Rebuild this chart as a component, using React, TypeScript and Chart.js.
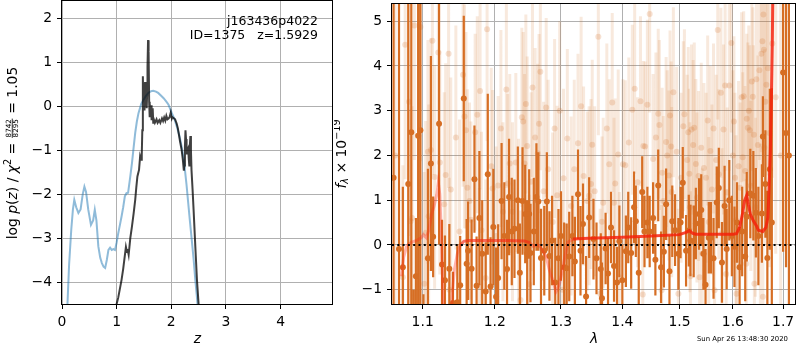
import React, { useEffect, useRef } from 'react';
import { Chart, registerables } from 'chart.js';

Chart.register(...registerables);

const FONT = "'DejaVu Sans', sans-serif";

// ---------------- left panel: log p(z) ----------------
const zTicks = [0, 1, 2, 3, 4];
const logpTicks = [-4, -3, -2, -1, 0, 1, 2];

const zBlack = [0.98, 1.00, 1.03, 1.06, 1.09, 1.12, 1.15, 1.17, 1.19, 1.20, 1.22, 1.25, 1.28, 1.31, 1.34, 1.36, 1.38, 1.40, 1.41, 1.43, 1.45, 1.46, 1.47, 1.48, 1.49, 1.50, 1.51, 1.52, 1.53, 1.54, 1.55, 1.56, 1.565, 1.575, 1.585, 1.595, 1.60, 1.61, 1.62, 1.63, 1.64, 1.65, 1.66, 1.67, 1.68, 1.70, 1.73, 1.75, 1.78, 1.80, 1.83, 1.85, 1.87, 1.89, 1.91, 1.93, 1.95, 1.97, 1.99, 2.01, 2.02, 2.04, 2.07, 2.10, 2.12, 2.14, 2.16, 2.19, 2.21, 2.23, 2.24, 2.25, 2.26, 2.27, 2.28, 2.29, 2.31, 2.32, 2.33, 2.34, 2.35, 2.36, 2.37, 2.39, 2.41, 2.44, 2.47, 2.50, 2.52];
const logpBlack = [-4.8, -4.5, -4.35, -4.15, -3.95, -3.7, -3.4, -3.2, -3.32, -3.25, -3.38, -3.0, -2.74, -2.45, -2.13, -1.85, -1.6, -1.5, -1.45, -1.14, -1.22, -1.1, -0.55, 0.68, -0.05, 0.35, -0.1, 0.55, 0.05, 0.4, -0.05, 0.35, 0.9, 1.5, 1.25, 0.1, -0.25, 0.05, -0.12, 0.02, -0.32, -0.15, -0.05, -0.38, -0.3, -0.38, -0.3, -0.38, -0.32, -0.38, -0.28, -0.34, -0.26, -0.33, -0.22, -0.3, -0.28, -0.25, -0.15, -0.28, -0.25, -0.27, -0.3, -0.4, -0.5, -0.65, -0.8, -1.0, -1.2, -1.47, -1.35, -0.92, -0.55, -0.75, -1.1, -1.0, -0.95, -1.2, -1.35, -0.9, -0.68, -1.0, -1.45, -1.9, -2.4, -3.19, -3.95, -4.5, -5.0];

const zBlue = [0.08, 0.10, 0.13, 0.17, 0.20, 0.225, 0.26, 0.30, 0.34, 0.38, 0.41, 0.44, 0.48, 0.53, 0.57, 0.60, 0.63, 0.665, 0.70, 0.73, 0.76, 0.79, 0.82, 0.85, 0.88, 0.91, 0.94, 0.97, 1.00, 1.03, 1.06, 1.09, 1.12, 1.15, 1.18, 1.21, 1.25, 1.28, 1.31, 1.34, 1.37, 1.40, 1.45, 1.49, 1.54, 1.58, 1.63, 1.67, 1.72, 1.76, 1.81, 1.86, 1.91, 1.95, 2.01, 2.06, 2.10, 2.15, 2.19, 2.22, 2.25, 2.28, 2.31, 2.34, 2.375, 2.41, 2.44, 2.47, 2.50];
const logpBlue = [-5.0, -4.5, -3.6, -2.8, -2.35, -2.13, -2.3, -2.43, -2.35, -2.0, -1.83, -1.95, -2.35, -2.70, -2.6, -2.36, -2.6, -3.19, -3.45, -3.57, -3.65, -3.68, -3.5, -3.27, -3.22, -3.27, -3.25, -3.27, -3.1, -2.89, -2.7, -2.51, -2.3, -2.05, -1.98, -1.97, -1.6, -1.30, -0.95, -0.61, -0.35, -0.16, 0.05, 0.14, 0.24, 0.30, 0.34, 0.35, 0.33, 0.30, 0.24, 0.18, 0.10, 0.03, -0.16, -0.30, -0.46, -0.68, -0.92, -1.15, -1.45, -1.80, -2.20, -2.60, -3.04, -3.5, -3.95, -4.35, -4.8];

const fieldName = 'j163436p4022';
const idText = 'ID=1375   z=1.5929';

// ---------------- right panel: spectrum ----------------
const lamTicks = [1.1, 1.2, 1.3, 1.4, 1.5, 1.6, 1.7];
const fluxTicks = [-1, 0, 1, 2, 3, 4, 5];

const solidWave = [
  1.062, 1.069, 1.074, 1.081, 1.085, 1.088, 1.091, 1.094, 1.097, 1.101,
  1.107, 1.111, 1.114, 1.122, 1.126, 1.130, 1.136, 1.141, 1.147, 1.151,
  1.156, 1.160, 1.162, 1.167, 1.171, 1.174, 1.178, 1.182, 1.187, 1.190,
  1.194, 1.198, 1.202, 1.205, 1.210, 1.214, 1.218, 1.221, 1.225, 1.229,
  1.234, 1.237, 1.241, 1.245, 1.248, 1.251, 1.253, 1.258, 1.262, 1.265,
  1.269, 1.274, 1.278, 1.282, 1.286, 1.291, 1.296, 1.300, 1.305, 1.309,
  1.313, 1.318, 1.322, 1.327, 1.331, 1.335, 1.340, 1.345, 1.352, 1.357,
  1.364, 1.366, 1.372, 1.376, 1.381, 1.386, 1.391, 1.395, 1.400, 1.406,
  1.410, 1.415, 1.420, 1.423, 1.428, 1.434, 1.438, 1.443, 1.447, 1.453,
  1.457, 1.462, 1.467, 1.472, 1.476, 1.482, 1.487, 1.492, 1.498, 1.502,
  1.506, 1.512, 1.517, 1.520, 1.526, 1.530, 1.536, 1.540, 1.544, 1.548,
  1.554, 1.558, 1.563, 1.569, 1.573, 1.579, 1.584, 1.588, 1.593, 1.598,
  1.603, 1.608, 1.613, 1.618, 1.624, 1.627, 1.634, 1.640, 1.645, 1.650,
  1.657, 1.659, 1.664, 1.668, 1.673, 1.677, 1.700, 1.706, 1.712,
];
const solidFlux = [
  1.5, -0.09, -0.5, 1.36, 2.52, -1.6, -0.7, 2.44, 2.56, -1.5,
  -0.3, 1.82, 0.18, 2.71, -0.44, -0.79, -0.53, -1.3, -1.28, -0.9,
  3.27, -0.42, -0.13, -0.53, 1.47, -0.91, 0.60, -0.2, -1.04, 1.58,
  -0.93, 0.4, -1.16, -0.74, 0.98, 0.2, -0.54, 1.07, 0.3, 0.36,
  1.0, -0.62, 0.98, 0.69, -0.2, 0.69, -0.18, 0.3, 1.07, 0.97,
  -0.29, -0.13, 0.97, -0.25, 0.1, -0.84, -0.3, 0.2, -0.5, -0.52,
  -0.26, 0.2, -0.37, 1.13, -0.13, 0.47, -1.15, 0.61, 0.13, -0.3,
  -0.54, -1.19, -0.08, -0.64, 0.39, -0.47, -0.84, 0.08, -0.79, -0.14,
  0.39, -0.18, 0.84, 0.53, -0.62, 1.18, 0.30, 0.50, 0.30, 0.6,
  -0.33, 1.33, -0.5, -0.15, 0.91, -0.59, 0.53, 0.33, -0.2, 0.5,
  1.39, -0.13, 0.32, 0.10, 0.08, 0.48, 0.69, 0.78, -0.2, -0.89,
  0.16, 0.16, -0.3, 0.95, 1.27, -0.39, 0.87, -0.09, 1.0, 0.2,
  -0.04, 0.5, -0.5, 0.3, -0.26, 0.63, 1.15, 1.1, 0.72, 0.2,
  0.70, 2.42, 1.36, -0.29, 1.69, 0.5, 3.85, 2.5, 2.0,
];
const solidErr = [
  6, 6, 1.8, 6, 6, 0.6, 1.3, 6, 4.2, 0.4,
  2.0, 2.4, 0.9, 2.7, 1.0, 1.0, 1.0, 0.7, 1.3, 1.1,
  1.85, 1.0, 1.1, 1.1, 1.2, 1.1, 1.5, 1.2, 1.1, 1.8,
  1.1, 1.3, 1.1, 1.2, 1.3, 1.2, 1.1, 1.3, 1.2, 1.1,
  1.2, 1.1, 1.2, 1.1, 1.2, 1.0, 1.1, 1.2, 1.2, 1.1,
  1.1, 1.0, 1.1, 1.0, 1.0, 1.0, 1.1, 1.0, 1.0, 1.0,
  1.0, 0.9, 1.0, 1.0, 1.0, 0.9, 0.9, 0.9, 0.9, 0.8,
  0.8, 0.8, 0.8, 0.8, 0.8, 0.8, 0.8, 0.8, 0.8, 0.8,
  0.8, 0.8, 0.8, 0.8, 0.8, 0.8, 0.8, 0.8, 0.8, 0.8,
  0.8, 0.8, 0.8, 0.8, 0.8, 0.8, 0.8, 0.8, 0.8, 0.8,
  0.8, 0.8, 0.8, 0.8, 0.8, 0.8, 0.8, 0.8, 0.8, 0.8,
  0.8, 0.8, 0.9, 0.8, 0.9, 0.9, 0.9, 0.9, 0.9, 0.9,
  0.9, 0.9, 0.9, 1.0, 1.0, 1.0, 1.0, 1.0, 1.0, 1.1,
  1.1, 0.9, 1.2, 1.5, 1.8, 3.0, 4.0, 3.0, 5.0,
];

const faintWave = [
  1.064, 1.074, 1.077, 1.082, 1.084, 1.086, 1.089, 1.097, 1.102, 1.104,
  1.107, 1.108, 1.111, 1.113, 1.116, 1.121, 1.123, 1.129, 1.131, 1.135,
  1.136, 1.138, 1.145, 1.150, 1.155, 1.157, 1.159, 1.161, 1.164, 1.166,
  1.172, 1.175, 1.178, 1.179, 1.181, 1.187, 1.189, 1.195, 1.197, 1.202,
  1.205, 1.209, 1.212, 1.217, 1.219, 1.222, 1.226, 1.231, 1.235, 1.238,
  1.240, 1.242, 1.244, 1.246, 1.248, 1.251, 1.254, 1.256, 1.260, 1.264,
  1.266, 1.268, 1.273, 1.277, 1.280, 1.287, 1.290, 1.294, 1.298, 1.302,
  1.304, 1.310, 1.316, 1.321, 1.327, 1.332, 1.336, 1.342, 1.345, 1.348,
  1.350, 1.354, 1.360, 1.363, 1.366, 1.368, 1.374, 1.378, 1.383, 1.386,
  1.388, 1.393, 1.395, 1.401, 1.405, 1.411, 1.417, 1.421, 1.426, 1.431,
  1.435, 1.436, 1.439, 1.443, 1.447, 1.453, 1.458, 1.462, 1.464, 1.468,
  1.469, 1.471, 1.476, 1.478, 1.481, 1.483, 1.485, 1.486, 1.489, 1.495,
  1.498, 1.503, 1.507, 1.509, 1.514, 1.516, 1.518, 1.519, 1.520, 1.522,
  1.525, 1.527, 1.530, 1.532, 1.535, 1.537, 1.540, 1.542, 1.545, 1.549,
  1.552, 1.554, 1.557, 1.560, 1.563, 1.565, 1.568, 1.571, 1.573, 1.577,
  1.579, 1.582, 1.585, 1.587, 1.589, 1.593, 1.597, 1.600, 1.602, 1.604,
  1.606, 1.607, 1.611, 1.614, 1.617, 1.619, 1.621, 1.624, 1.626, 1.627,
  1.629, 1.631, 1.633, 1.635, 1.637, 1.639, 1.641, 1.642, 1.644, 1.646,
  1.649, 1.652, 1.654, 1.656, 1.658, 1.659, 1.660, 1.661, 1.662, 1.664,
  1.666, 1.669, 1.672, 1.678, 1.685, 1.695,
];
const faintFlux = [
  2.0, -0.72, 4.47, 3.2, 0.53, 0.6, 4.9, 4.87, -0.87, 0.27,
  2.08, 0.64, 2.12, 4.56, 1.52, 4.3, 1.84, 0.91, 1.56, 4.27,
  -1.0, 1.24, 2.4, 0.3, 3.8, 2.87, 2.56, 1.28, 0.98, 0.56,
  2.52, 2.91, -0.93, 3.44, 0.33, -0.74, 4.82, 1.76, 1.26, 0.2,
  1.33, 2.6, 0.74, 3.47, 1.37, 1.82, 0.74, 1.84, 0.37, -1.23,
  2.85, 2.76, 1.82, 3.15, 2.21, -0.88, 1.41, 3.52, 2.4, 2.05,
  2.71, 3.87, 1.2, 3.07, 1.69, 0.51, 2.6, 1.11, 3.0, -1.0,
  1.49, 2.38, 0.87, 1.69, 2.27, 3.1, 1.54, 0.98, 1.1, 1.36,
  2.24, 1.2, 4.65, -1.09, 0.52, 0.94, 2.6, 1.8, 3.18, 0.94,
  1.37, 2.02, -0.72, 1.8, 1.78, 2.29, 3.02, 3.49, 1.4, 3.21,
  -1.11, 2.21, 2.2, 3.13, 5.16, 1.92, 2.4, 2.93, 2.68, -1.01,
  1.61, 0.98, 2.3, 2.0, 1.55, 2.89, 2.2, 1.18, 3.41, 2.08,
  -1.09, 1.5, 2.65, 2.92, 1.9, 2.52, 1.59, 0.84, -0.7, 2.58,
  2.23, 2.62, 1.81, 1.06, 1.54, -0.72, 2.17, -0.19, 1.72, 1.5,
  2.78, 0.51, 2.1, 1.24, 2.6, -1.01, 1.9, 4.8, 1.58, 3.4,
  0.26, 2.58, 3.56, -0.65, 1.17, 3.56, 4.51, 2.0, 2.76, 1.5,
  0.55, -1.09, 1.76, 1.28, 3.3, 1.96, 3.32, 1.65, -0.42, 2.82,
  2.62, 3.0, 2.56, 1.32, 3.65, 3.31, 2.46, -0.87, 0.84, 3.7,
  2.23, 3.9, 0.26, 4.27, 4.55, -1.16, 5.15, 4.36, 2.17, 3.2,
  3.58, 3.95, 2.5, 4.5, 3.3, 2.0,
];
const faintErr = [
  3.5, 2.5, 3.0, 3.0, 2.5, 2.5, 3.0, 3.0, 2.5, 2.5,
  2.5, 2.5, 2.5, 3.0, 2.5, 3.0, 2.5, 2.5, 2.5, 3.0,
  2.5, 2.5, 2.5, 2.5, 2.5, 2.5, 2.2, 2.2, 2.2, 2.2,
  2.2, 2.2, 2.2, 2.2, 2.2, 2.2, 2.5, 2.2, 2.2, 2.0,
  2.0, 2.2, 2.0, 2.2, 2.0, 2.0, 2.0, 2.0, 2.0, 2.0,
  2.0, 2.0, 2.0, 2.0, 2.0, 2.0, 2.0, 2.0, 2.0, 2.0,
  2.0, 2.2, 2.0, 2.0, 2.0, 2.0, 2.0, 2.0, 2.0, 2.0,
  2.0, 2.0, 2.0, 2.0, 2.0, 2.0, 2.0, 2.0, 2.0, 1.9,
  1.9, 1.9, 2.2, 1.9, 1.9, 1.9, 1.9, 1.9, 2.0, 1.9,
  1.9, 1.9, 1.9, 1.9, 1.9, 1.9, 1.9, 1.9, 1.9, 1.9,
  1.9, 1.9, 1.9, 1.9, 2.2, 1.9, 1.9, 1.9, 1.9, 1.9,
  1.9, 1.9, 1.9, 1.9, 1.9, 1.9, 1.9, 1.9, 1.9, 1.9,
  1.9, 1.9, 1.9, 1.9, 1.9, 1.9, 1.9, 1.9, 1.9, 1.9,
  1.9, 1.9, 1.9, 1.9, 1.9, 1.9, 1.9, 1.9, 1.9, 1.9,
  1.9, 1.9, 1.9, 1.9, 1.9, 1.9, 1.9, 2.0, 1.9, 1.9,
  1.9, 1.9, 1.9, 1.9, 1.9, 1.9, 2.0, 1.9, 1.9, 1.9,
  1.9, 1.9, 1.9, 1.9, 1.9, 1.9, 1.9, 1.9, 1.9, 1.9,
  1.9, 1.9, 1.9, 1.9, 2.0, 2.0, 2.0, 2.0, 2.0, 2.0,
  2.0, 2.0, 2.0, 2.2, 2.2, 2.2, 2.2, 2.2, 2.2, 2.2,
  2.4, 2.4, 3.0, 3.0, 3.5, 4.0,
];

const modelWave = [1.072, 1.075, 1.079, 1.085, 1.092, 1.098, 1.101, 1.105, 1.108, 1.112, 1.115, 1.119, 1.121, 1.123, 1.125, 1.127, 1.129, 1.133, 1.137, 1.140, 1.143, 1.147, 1.151, 1.156, 1.162, 1.18, 1.20, 1.22, 1.244, 1.252, 1.257, 1.264, 1.269, 1.277, 1.282, 1.288, 1.292, 1.294, 1.298, 1.302, 1.307, 1.311, 1.319, 1.344, 1.40, 1.45, 1.50, 1.512, 1.518, 1.524, 1.53, 1.56, 1.60, 1.607, 1.613, 1.619, 1.623, 1.627, 1.630, 1.634, 1.64, 1.646, 1.65, 1.659, 1.665, 1.669, 1.671, 1.674, 1.676, 1.678, 1.680];
const modelFlux = [-0.70, -0.28, -0.02, 0.06, 0.10, 0.16, 0.23, 0.16, 0.32, 0.69, 0.85, 1.13, 1.39, 1.13, 0.24, -0.87, -2.0, -3.5, -2.2, -1.1, -0.55, -0.2, -0.01, 0.08, 0.10, 0.10, 0.10, 0.10, 0.09, 0.05, -0.03, 0.0, -0.06, -0.27, -0.57, -0.82, -1.05, -1.0, -0.85, -0.57, -0.2, 0.06, 0.13, 0.15, 0.17, 0.20, 0.23, 0.28, 0.32, 0.26, 0.24, 0.24, 0.24, 0.25, 0.39, 0.72, 1.0, 1.11, 0.91, 0.69, 0.54, 0.43, 0.33, 0.30, 0.39, 0.61, 1.13, 2.1, 3.2, 4.54, 6.5];

const stamp = 'Sun Apr 26 13:48:30 2020';

// ---------------- helpers ----------------
const ORANGE = 'rgb(214,110,36)';
const FAINT_BAR = 'rgba(210,105,30,0.15)';
const FAINT_DOT = 'rgba(210,105,30,0.2)';

function fnt(size: number, italic = false) {
  return `${italic ? 'italic ' : ''}${size}px ${FONT}`;
}
function minusFmt(v: number | string) {
  return String(v).replace('-', '\u2212');
}
function errSegments(w: number[], v: number[], e: number[], pick: (i: number) => boolean) {
  const out: { x: number; y: number | null }[] = [];
  for (let i = 0; i < w.length; i++) {
    if (!pick(i)) continue;
    out.push({ x: w[i], y: v[i] - e[i] }, { x: w[i], y: v[i] + e[i] }, { x: w[i], y: null });
  }
  return out;
}
function pts(xs: number[], ys: number[]) {
  return xs.map((x, i) => ({ x, y: ys[i] }));
}

type Run = { text: string; size: number; italic?: boolean; shift?: number };
function drawRuns(ctx: CanvasRenderingContext2D, runs: Run[], x: number, base: number) {
  for (const r of runs) {
    ctx.font = fnt(r.size, r.italic);
    ctx.fillText(r.text, x, base + (r.shift || 0));
    x += ctx.measureText(r.text).width;
  }
  return x;
}
function runsWidth(ctx: CanvasRenderingContext2D, runs: Run[]) {
  let w = 0;
  for (const r of runs) {
    ctx.font = fnt(r.size, r.italic);
    w += ctx.measureText(r.text).width;
  }
  return w;
}

const framePlugin = {
  id: 'frame',
  afterDraw(chart: any) {
    const { ctx, chartArea: a } = chart;
    ctx.save();
    ctx.strokeStyle = '#000';
    ctx.lineWidth = 1;
    const l = Math.round(a.left) - 0.5, t = Math.round(a.top) - 0.5;
    const r = Math.round(a.right) - 0.5, b = Math.round(a.bottom) + 0.5;
    ctx.strokeRect(l, t, r - l, b - t);
    ctx.restore();
  },
};

const leftTextPlugin = {
  id: 'leftText',
  afterDraw(chart: any) {
    const ctx: CanvasRenderingContext2D = chart.ctx;
    ctx.save();
    ctx.fillStyle = '#000';
    ctx.textBaseline = 'alphabetic';
    ctx.textAlign = 'right';
    ctx.font = fnt(12.5);
    ctx.fillText(fieldName, 318, 24.5);
    ctx.fillText(idText, 318, 39);
    // y label
    const S = 13.9, SUP = 9.7, FR = 7.2;
    ctx.translate(12, 153);
    ctx.rotate(-Math.PI / 2);
    ctx.textAlign = 'left';
    const before: Run[] = [
      { text: 'log ', size: S }, { text: 'p', size: S, italic: true }, { text: '(', size: S },
      { text: 'z', size: S, italic: true }, { text: ') / ', size: S }, { text: '\u03c7', size: S, italic: true },
      { text: '2', size: SUP, shift: -5.5 }, { text: ' = ', size: S },
    ];
    const after: Run[] = [{ text: ' = 1.05', size: S }];
    ctx.font = fnt(FR);
    const wNum = ctx.measureText('8742').width, wDen = ctx.measureText('8295').width;
    const wFrac = Math.max(wNum, wDen) + 2;
    const total = runsWidth(ctx, before) + wFrac + runsWidth(ctx, after);
    const base = 4.7;
    let x = -total / 2;
    x = drawRuns(ctx, before, x, base);
    ctx.font = fnt(FR);
    ctx.fillText('8742', x + (wFrac - wNum) / 2, base - 5.6);
    ctx.fillText('8295', x + (wFrac - wDen) / 2, base + 1.2);
    ctx.fillRect(x + 0.5, base - 4.9, wFrac - 1, 0.8);
    x += wFrac;
    drawRuns(ctx, after, x, base);
    ctx.restore();
  },
};

const rightTextPlugin = {
  id: 'rightText',
  afterDraw(chart: any) {
    const ctx: CanvasRenderingContext2D = chart.ctx;
    ctx.save();
    ctx.fillStyle = '#000';
    ctx.textBaseline = 'alphabetic';
    ctx.textAlign = 'right';
    ctx.font = fnt(6.9);
    ctx.fillText(stamp, 788 - 334, 341);
    ctx.textAlign = 'left';
    ctx.translate(7, 154);
    ctx.rotate(-Math.PI / 2);
    const S = 13.9, SM = 9.7;
    const runs: Run[] = [
      { text: 'f', size: S, italic: true }, { text: '\u03bb', size: SM, italic: true, shift: 2.5 },
      { text: ' \u00d7 10', size: S }, { text: '\u221219', size: SM, shift: -5.5 },
    ];
    const w = runsWidth(ctx, runs);
    drawRuns(ctx, runs, -w / 2, 4.5);
    ctx.restore();
  },
};

const tickFont = { family: FONT, size: 13.9 };
const gridOpts = { color: '#b0b0b0', lineWidth: 1, tickLength: 5, tickColor: '#000', drawTicks: true };

function zeroPad(ax: any) {
  ax.paddingTop = 0;
  ax.paddingBottom = 0;
  ax.paddingLeft = 0;
  ax.paddingRight = 0;
}

function axis(min: number, max: number, ticks: number[], extra: any) {
  return {
    min,
    max,
    afterBuildTicks: (ax: any) => {
      ax.ticks = ticks.map((value) => ({ value }));
    },
    grid: gridOpts,
    border: { display: false },
    ticks: {
      font: tickFont,
      color: '#000',
      padding: 5,
      maxRotation: 0,
      autoSkip: false,
      callback: (v: number) => minusFmt(Math.round(v * 10) / 10),
    },
    ...extra,
  };
}

export default function App() {
  const leftRef = useRef<HTMLCanvasElement>(null);
  const rightRef = useRef<HTMLCanvasElement>(null);

  useEffect(() => {
    Chart.defaults.font.family = FONT;
    Chart.defaults.color = '#000';

    const left = new Chart(leftRef.current as HTMLCanvasElement, {
      type: 'line',
      data: {
        datasets: [
          { data: pts(zBlack, logpBlack), borderColor: 'rgba(0,0,0,0.75)', borderWidth: 2, pointRadius: 0, tension: 0, clip: 0 } as any,
          { data: pts(zBlue, logpBlue), borderColor: 'rgba(31,119,180,0.5)', borderWidth: 2, pointRadius: 0, tension: 0, clip: 0 } as any,
        ],
      },
      options: {
        animation: false,
        responsive: false,
        events: [],
        layout: { padding: { left: 0, right: 1, top: 1, bottom: 0 } },
        plugins: { legend: { display: false }, tooltip: { enabled: false } },
        scales: {
          x: axis(0, 4.96, zTicks, {
            type: 'linear',
            afterFit: (ax: any) => { ax.height = 46; zeroPad(ax); },
            title: { display: true, text: 'z', color: '#000', font: { family: FONT, size: 13.9, style: 'italic' }, padding: { top: 0, bottom: 2 } },
          }),
          y: axis(-4.5, 2.39, logpTicks, {
            type: 'linear',
            afterFit: (ax: any) => { ax.width = 62; zeroPad(ax); },
          }),
        },
      } as any,
      plugins: [framePlugin, leftTextPlugin],
    });

    const modelColor = (x: number) => {
      if (x < 1.15) return 'rgba(255,40,20,0.35)';
      if (x < 1.25) return 'rgba(245,40,20,0.65)';
      if (x < 1.312) return 'rgba(255,40,20,0.35)';
      return 'rgba(245,30,10,0.82)';
    };

    const right = new Chart(rightRef.current as HTMLCanvasElement, {
      type: 'line',
      data: {
        datasets: [
          {
            data: [{ x: 1.06, y: 0 }, { x: 1.7267, y: 0 }],
            borderColor: '#000', borderWidth: 2, borderDash: [2, 3.3], pointRadius: 0, clip: 0,
          },
          {
            data: pts(modelWave, modelFlux), borderColor: 'rgba(245,30,10,0.82)', borderWidth: 3, pointRadius: 0, tension: 0, clip: 0,
            segment: { borderColor: (c: any) => modelColor(c.p0.parsed.x) },
          },
          { data: pts(solidWave, solidFlux), showLine: false, pointRadius: 3, pointBackgroundColor: ORANGE, pointBorderWidth: 0, clip: 0 },
          { data: errSegments(solidWave, solidFlux, solidErr, () => true), borderColor: ORANGE, borderWidth: 2.2, pointRadius: 0, spanGaps: false, clip: 0 },
          { data: pts(faintWave, faintFlux), showLine: false, pointRadius: 3, pointBackgroundColor: FAINT_DOT, pointBorderWidth: 0, clip: 0 },
          { data: errSegments(faintWave, faintFlux, faintErr, (i) => i % 3 === 0), borderColor: FAINT_BAR, borderWidth: 3, pointRadius: 0, spanGaps: false, clip: 0 },
          { data: errSegments(faintWave, faintFlux, faintErr, (i) => i % 3 === 1), borderColor: FAINT_BAR, borderWidth: 3, pointRadius: 0, spanGaps: false, clip: 0 },
          { data: errSegments(faintWave, faintFlux, faintErr, (i) => i % 3 === 2), borderColor: FAINT_BAR, borderWidth: 3, pointRadius: 0, spanGaps: false, clip: 0 },
        ] as any,
      },
      options: {
        animation: false,
        responsive: false,
        events: [],
        layout: { padding: { left: 0, right: 1, top: 1, bottom: 0 } },
        plugins: { legend: { display: false }, tooltip: { enabled: false } },
        scales: {
          x: axis(1.06, 1.7267, lamTicks, {
            type: 'logarithmic',
            afterFit: (ax: any) => { ax.height = 46; zeroPad(ax); },
            title: { display: true, text: '\u03bb', color: '#000', font: { family: FONT, size: 13.9, style: 'italic' }, padding: { top: 0, bottom: 2 } },
          }),
          y: axis(-1.32, 5.383, fluxTicks, {
            type: 'linear',
            afterFit: (ax: any) => { ax.width = 58; zeroPad(ax); },
          }),
        },
      } as any,
      plugins: [framePlugin, rightTextPlugin],
    });

    return () => {
      left.destroy();
      right.destroy();
    };
  }, []);

  return (
    <div style={{ position: 'absolute', left: 0, top: 0, width: 800, height: 350, background: '#fff' }}>
      <canvas ref={leftRef} width={334} height={350} style={{ position: 'absolute', left: 0, top: 0, width: 334, height: 350 }} />
      <canvas ref={rightRef} width={466} height={350} style={{ position: 'absolute', left: 334, top: 0, width: 466, height: 350 }} />
    </div>
  );
}
